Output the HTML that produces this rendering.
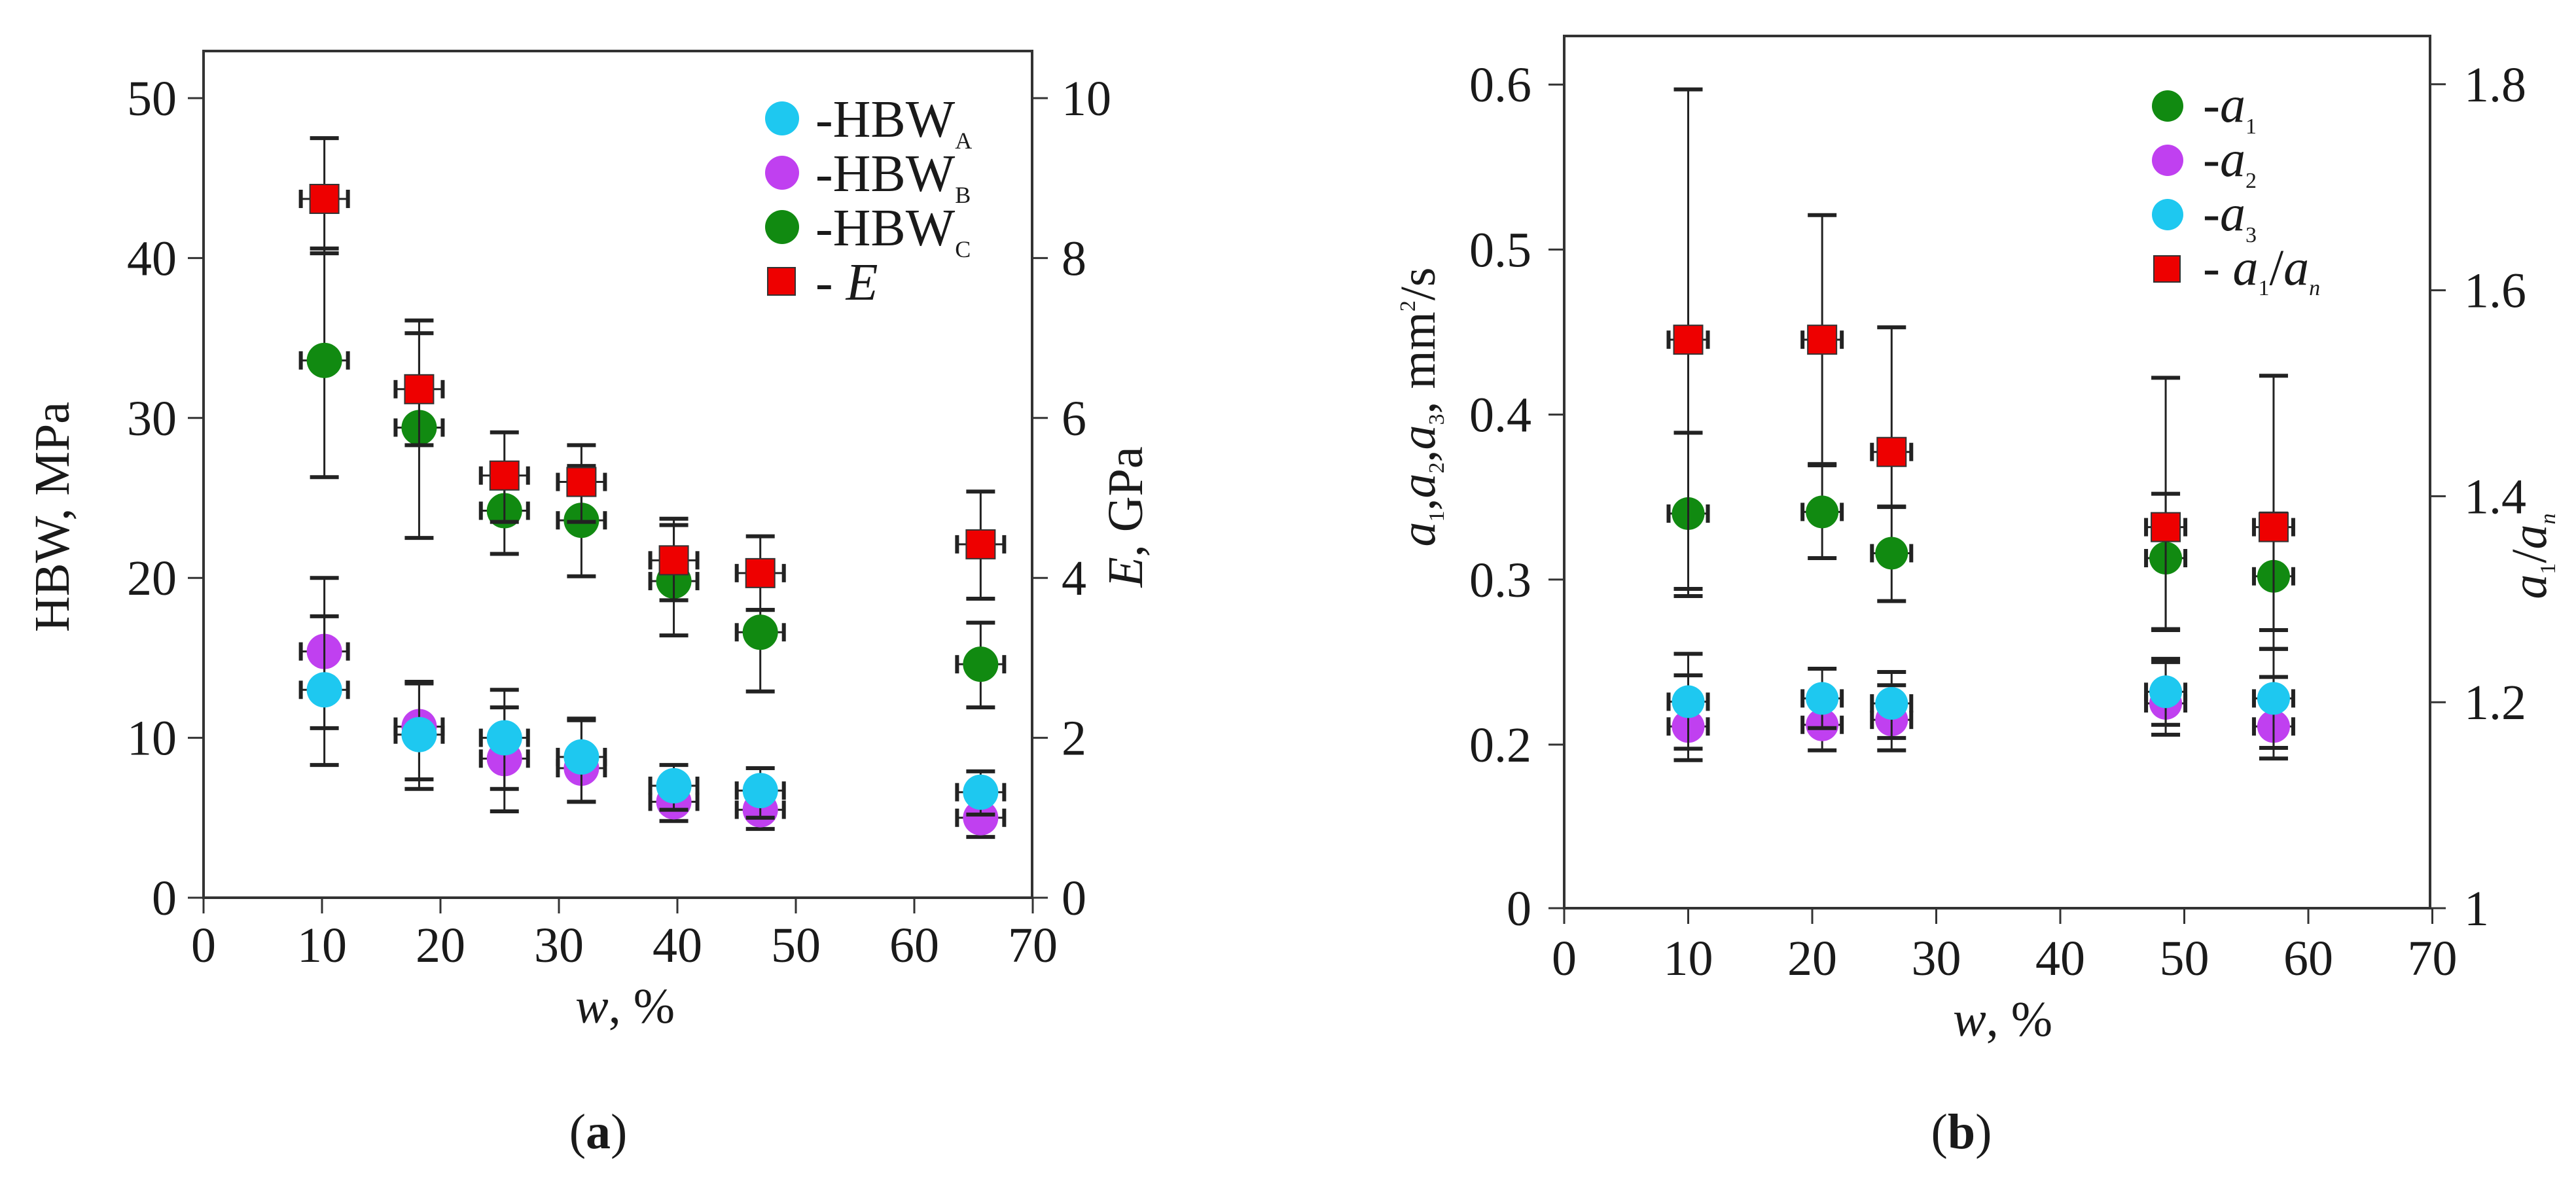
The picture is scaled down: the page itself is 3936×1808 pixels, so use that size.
<!DOCTYPE html>
<html><head><meta charset="utf-8"><style>
html,body{margin:0;padding:0;background:#fff;}
svg{display:block;}
text{font-family:"Liberation Serif",serif;fill:#1a1a1a;}
</style></head><body>
<svg id="fig" width="3936" height="1808" viewBox="0 0 3936 1808" xmlns="http://www.w3.org/2000/svg">
<rect width="3936" height="1808" fill="#fff"/>
</svg>
<script>
// ---------- Chart (a) data ----------
const aW = [10.2, 18.2, 25.4, 31.9, 39.7, 47.0, 65.6];
const aE = [8.74, 6.36, 5.28, 5.20, 4.22, 4.06, 4.42];
const aEhi = [9.50, 7.22, 5.82, 5.66, 4.74, 4.52, 5.08];
const aElo = [8.06, 5.66, 4.70, 4.70, 3.72, 3.60, 3.74];
const aC = [33.6, 29.4, 24.2, 23.6, 19.8, 16.6, 14.6];
const aChi = [40.6, 35.3, 26.4, 27.0, 23.3, 18.0, 17.2];
const aClo = [26.3, 22.5, 21.5, 20.1, 16.4, 12.9, 11.9];
const aA = [13.0, 10.2, 10.0, 8.8, 7.0, 6.7, 6.6];
const aAhi = [17.6, 13.4, 11.9, 11.1, 8.3, 8.1, 7.9];
const aAlo = [8.3, 7.4, 6.8, 6.0, 5.5, 5.0, 5.2];
const aB = [15.4, 10.7, 8.7, 8.1, 6.0, 5.5, 5.0];
const aBhi = [20.0, 13.5, 13.0, 11.2, 7.3, 7.0, 5.2];
const aBlo = [10.6, 6.8, 5.4, 6.0, 4.8, 4.3, 3.8];
const aXTicks = [0, 10, 20, 30, 40, 50, 60, 70];
const aYTicks = [0, 10, 20, 30, 40, 50];
const aY2Ticks = [0, 2, 4, 6, 8, 10];
// ---------- Chart (b) data ----------
const bW = [10.0, 20.8, 26.4, 48.5, 57.2];
const bR = [1.552, 1.552, 1.443, 1.370, 1.370];
const bRhi = [1.795, 1.673, 1.564, 1.515, 1.517];
const bRlo = [1.310, 1.430, 1.390, 1.270, 1.270];
const b1 = [0.340, 0.341, 0.316, 0.313, 0.302];
const b1hi = [0.389, 0.370, 0.344, 0.352, 0.340];
const b1lo = [0.290, 0.313, 0.287, 0.270, 0.258];
const b3 = [0.226, 0.228, 0.225, 0.232, 0.228];
const b3hi = [0.255, 0.246, 0.244, 0.252, 0.258];
const b3lo = [0.195, 0.210, 0.204, 0.212, 0.196];
const b2 = [0.211, 0.212, 0.215, 0.225, 0.211];
const b2hi = [0.242, 0.229, 0.236, 0.250, 0.241];
const b2lo = [0.181, 0.193, 0.193, 0.206, 0.183];
const bXTicks = [0, 10, 20, 30, 40, 50, 60, 70];
const bYTicks = [0, 0.2, 0.3, 0.4, 0.5, 0.6];
const bY2Ticks = [1, 1.2, 1.4, 1.6, 1.8];

const NS = "http://www.w3.org/2000/svg";
const svg = document.getElementById('fig');
function mk(tag, attrs, parent) {
  const e = document.createElementNS(NS, tag);
  for (const k in attrs) e.setAttribute(k, attrs[k]);
  (parent || svg).appendChild(e);
  return e;
}
const COL = {cyan:'#1ec8f0', purple:'#c040f0', green:'#118a11', red:'#ee0000'};

// axis functions (a)
const ax = v => 311 + v * 18.1;
const ay = v => 1372 - v * 24.44;
const ay2 = v => ay(v * 5);
// axis functions (b)
const bx = v => 2390 + v * 18.95;
const by = v => v <= 0.2 ? 1388 - v / 0.2 * 250 : 1138 - (v - 0.2) * 2522;
const by2 = v => 1388 - (v - 1) * 1574;

function drawFrame(g, x0, x1, y0, y1) {
  const f = mk('rect', {x:x0, y:y0, width:x1-x0, height:y1-y0, fill:'none', stroke:'#333', 'stroke-width':4}, g);
  
  
}
function errBar(g, cx, cyHi, cyLo, cy, hw, capW) {
  mk('line', {x1:cx, y1:cyHi, x2:cx, y2:cyLo, stroke:'#222', 'stroke-width':3}, g);
  mk('line', {x1:cx-capW, y1:cyHi, x2:cx+capW, y2:cyHi, stroke:'#222', 'stroke-width':6}, g);
  mk('line', {x1:cx-capW, y1:cyLo, x2:cx+capW, y2:cyLo, stroke:'#222', 'stroke-width':6}, g);
  mk('line', {x1:cx-hw, y1:cy, x2:cx+hw, y2:cy, stroke:'#222', 'stroke-width':3}, g);
  mk('line', {x1:cx-hw, y1:cy-14, x2:cx-hw, y2:cy+14, stroke:'#222', 'stroke-width':6}, g);
  mk('line', {x1:cx+hw, y1:cy-14, x2:cx+hw, y2:cy+14, stroke:'#222', 'stroke-width':6}, g);
}
function series(name, xs, ys, his, los, fx, fy, color, shape, r, hw) {
  const g = mk('g', {});
  
  
  xs.forEach((x, i) => {
    const cx = fx(x), cy = fy(ys[i]);
    errBar(g, cx, fy(his[i]), fy(los[i]), cy, hw, 22);
    let m;
    if (shape === 'sq') m = mk('rect', {x:cx-r, y:cy-r, width:2*r, height:2*r, fill:color, stroke:'#333', 'stroke-width':2}, g);
    else m = mk('circle', {cx:cx, cy:cy, r:r, fill:color}, g);
    
    
  });
}
function text(str, x, y, attrs, name) {
  const t = mk('text', Object.assign({x:x, y:y, 'font-size':76}, attrs || {}));
  t.textContent = str;
  
  
  return t;
}

// ---------- Chart (a) ----------
drawFrame(svg, 311, 1577, 78, 1372);
aXTicks.forEach(v => {
  mk('line', {x1:ax(v), y1:1372, x2:ax(v), y2:1396, stroke:'#333', 'stroke-width':3});
  text(String(v), ax(v), 1470, {'text-anchor':'middle'}, 'x-tick-label');
});
aYTicks.forEach(v => {
  mk('line', {x1:287, y1:ay(v), x2:311, y2:ay(v), stroke:'#333', 'stroke-width':3});
  text(String(v), 270, ay(v)+26, {'text-anchor':'end'}, 'y-tick-label');
});
aY2Ticks.forEach(v => {
  mk('line', {x1:1577, y1:ay2(v), x2:1601, y2:ay2(v), stroke:'#333', 'stroke-width':3});
  text(String(v), 1622, ay2(v)+26, {}, 'y2-tick-label');
});
series('hbw-c-series', aW, aC, aChi, aClo, ax, ay, COL.green, 'c', 27, 36);
series('e-series', aW, aE, aEhi, aElo, ax, ay2, COL.red, 'sq', 22, 36);
series('hbw-b-series', aW, aB, aBhi, aBlo, ax, ay, COL.purple, 'c', 27, 36);
series('hbw-a-series', aW, aA, aAhi, aAlo, ax, ay, COL.cyan, 'c', 27, 36);
{
  const t = text('', 955, 1563, {'text-anchor':'middle'}, 'x-axis-title');
  t.innerHTML = '<tspan font-style="italic">w</tspan>, %';
  const y1 = text('HBW, MPa', 0, 0, {'text-anchor':'middle', transform:'translate(105,790) rotate(-90)'}, 'y-axis-title');
  const y2 = text('', 0, 0, {'text-anchor':'middle', transform:'translate(1745,790) rotate(-90)'}, 'y2-axis-title');
  y2.innerHTML = '<tspan font-style="italic">E</tspan>, GPa';
  const lab = text('', 914, 1755, {'text-anchor':'middle'}, 'panel-label-a');
  lab.innerHTML = '(<tspan font-weight="bold">a</tspan>)';
}
// legend (a)
const legA = [['HBW','A',COL.cyan,'c'],['HBW','B',COL.purple,'c'],['HBW','C',COL.green,'c'],['E','',COL.red,'sq']];
legA.forEach((it, i) => {
  const y = 181 + i * 83;
  const g = mk('g', {});
  
  
  if (it[3] === 'sq') mk('rect', {x:1173, y:y-21, width:42, height:42, fill:it[2], stroke:'#333', 'stroke-width':2}, g);
  else mk('circle', {cx:1195, cy:y, r:26, fill:it[2]}, g);
  const t = mk('text', {x:1246, y:y+28, 'font-size':80}, g);
  if (it[3] === 'sq') t.innerHTML = '- <tspan font-style="italic">E</tspan>';
  else t.innerHTML = '-' + it[0] + '<tspan font-size="36" dy="18">' + it[1] + '</tspan>';
});

// ---------- Chart (b) ----------
drawFrame(svg, 2390, 3713, 55, 1388);
bXTicks.forEach(v => {
  mk('line', {x1:bx(v), y1:1388, x2:bx(v), y2:1412, stroke:'#333', 'stroke-width':3});
  text(String(v), bx(v), 1490, {'text-anchor':'middle'}, 'x-tick-label');
});
bYTicks.forEach(v => {
  mk('line', {x1:2366, y1:by(v), x2:2390, y2:by(v), stroke:'#333', 'stroke-width':3});
  text(String(v), 2340, by(v)+26, {'text-anchor':'end'}, 'y-tick-label');
});
bY2Ticks.forEach(v => {
  mk('line', {x1:3713, y1:by2(v), x2:3737, y2:by2(v), stroke:'#333', 'stroke-width':3});
  text(String(v), 3765, by2(v)+26, {}, 'y2-tick-label');
});
series('a1-series', bW, b1, b1hi, b1lo, bx, by, COL.green, 'c', 25, 30);
series('ratio-series', bW, bR, bRhi, bRlo, bx, by2, COL.red, 'sq', 22, 30);
series('a2-series', bW, b2, b2hi, b2lo, bx, by, COL.purple, 'c', 25, 30);
series('a3-series', bW, b3, b3hi, b3lo, bx, by, COL.cyan, 'c', 25, 30);
{
  const t = text('', 3060, 1583, {'text-anchor':'middle'}, 'x-axis-title');
  t.innerHTML = '<tspan font-style="italic">w</tspan>, %';
  const y1 = text('', 0, 0, {'text-anchor':'middle', transform:'translate(2192,622) rotate(-90)'}, 'y-axis-title');
  y1.innerHTML = '<tspan font-style="italic">a</tspan><tspan font-size="34" dy="14">1</tspan><tspan dy="-14">,</tspan><tspan font-style="italic">a</tspan><tspan font-size="34" dy="14">2</tspan><tspan dy="-14">,</tspan><tspan font-style="italic">a</tspan><tspan font-size="34" dy="14">3</tspan><tspan dy="-14">, mm</tspan><tspan font-size="34" dy="-30">2</tspan><tspan dy="30">/s</tspan>';
  const y2 = text('', 0, 0, {'text-anchor':'middle', transform:'translate(3890,850) rotate(-90)'}, 'y2-axis-title');
  y2.innerHTML = '<tspan font-style="italic">a</tspan><tspan font-size="34" dy="14">1</tspan><tspan dy="-14">/</tspan><tspan font-style="italic">a</tspan><tspan font-size="34" font-style="italic" dy="14">n</tspan>';
  const lab = text('', 2997, 1755, {'text-anchor':'middle'}, 'panel-label-b');
  lab.innerHTML = '(<tspan font-weight="bold">b</tspan>)';
}
const legB = [['1',COL.green,'c'],['2',COL.purple,'c'],['3',COL.cyan,'c'],['r',COL.red,'sq']];
legB.forEach((it, i) => {
  const y = 162 + i * 83;
  const g = mk('g', {});
  
  
  if (it[2] === 'sq') mk('rect', {x:3291, y:y-20, width:40, height:40, fill:it[1], stroke:'#333', 'stroke-width':2}, g);
  else mk('circle', {cx:3312, cy:y, r:24, fill:it[1]}, g);
  const t = mk('text', {x:3366, y:y+24, 'font-size':78}, g);
  if (it[2] === 'sq') t.innerHTML = '- <tspan font-style="italic">a</tspan><tspan font-size="34" dy="16">1</tspan><tspan dy="-16">/</tspan><tspan font-style="italic">a</tspan><tspan font-size="34" font-style="italic" dy="16">n</tspan>';
  else t.innerHTML = '-<tspan font-style="italic">a</tspan><tspan font-size="34" dy="18">' + it[0] + '</tspan>';
});
</script>
</body></html>
